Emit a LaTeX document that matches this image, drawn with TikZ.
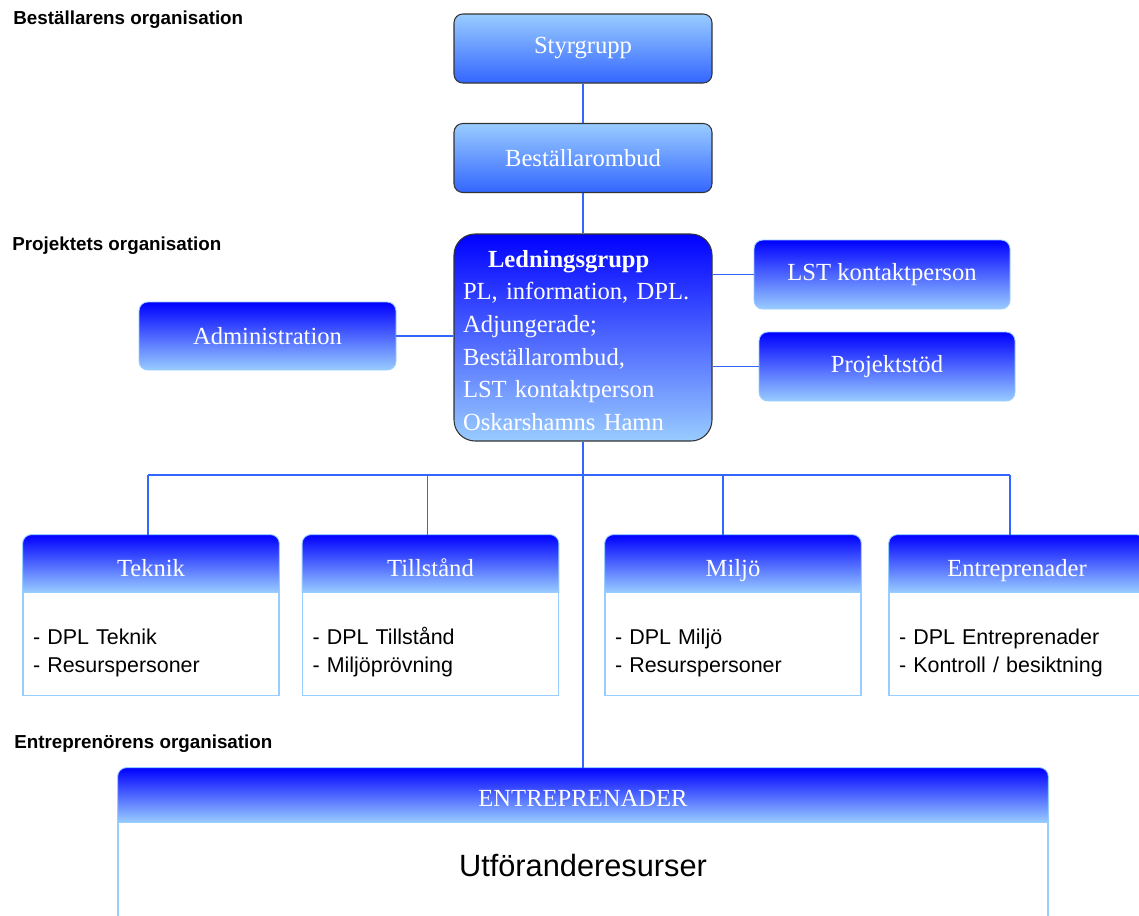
\documentclass[tikz,border=0pt]{standalone}
\usepackage{fontspec}
\setmainfont{Liberation Serif}
\setsansfont{Liberation Sans}
\usepackage{tikz}
\usetikzlibrary{positioning,backgrounds}
\definecolor{deepblue}{HTML}{0000FF}
\definecolor{paleblue}{HTML}{99CCFF}
\definecolor{midblue}{HTML}{3366FF}
\tikzstyle{topbox} = [draw=black!80, line width=0.6pt, rounded corners=5pt, top color=paleblue, bottom color=midblue, minimum width=5.16cm, minimum height=1.38cm, text=white, font=\fontsize{14}{17}\selectfont]
\tikzstyle{sidebox} = [draw=paleblue, line width=0.5pt, rounded corners=5pt, top color=deepblue, bottom color=paleblue, minimum width=5.12cm, minimum height=1.38cm, text=white, font=\fontsize{14}{17}\selectfont]
\tikzstyle{leadbox} = [draw=black!80, line width=0.6pt, rounded corners=12pt, top color=deepblue, bottom color=paleblue, minimum height=4.14cm, text width=4.8cm, text height=13pt, inner xsep=0.18cm, align=left, text=white, font=\fontsize{14}{18.6}\selectfont]
\tikzstyle{headbox} = [minimum width=5.12cm, minimum height=1.14cm, text height=0.55cm, text depth=0.05cm, text=white, font=\fontsize{14}{17}\selectfont]
\tikzstyle{headshade} = [draw=paleblue, line width=0.5pt, top color=deepblue, bottom color=paleblue]
\tikzstyle{bodybox} = [draw=paleblue, line width=0.6pt, fill=white, minimum height=2.06cm, text width=4.72cm, text height=0.85cm, text depth=0.85cm, inner xsep=0.2cm, align=left, font=\sffamily\fontsize{12.2}{15.9}\selectfont]
\tikzstyle{conn} = [draw=midblue, line width=1.1pt]
\tikzstyle{orglabel} = [anchor=west, inner sep=0pt, font=\sffamily\bfseries\fontsize{10.7}{13}\selectfont]

\begin{document}
\begin{tikzpicture}
			\useasboundingbox (0,0) rectangle (22.78,-18.3);
			\clip (0,0) rectangle (22.78,-18.3);
			% organisation labels
			\node[orglabel] (bestorg) at (0.26,-0.4) {Beställarens organisation};
			\node[orglabel] (projorg) at (0.24,-4.92) {Projektets organisation};
			\node[orglabel] (entrorg) at (0.28,-14.88) {Entreprenörens organisation};
			% top part
			\node[topbox] (styr) at (11.66,-0.97) {Styrgrupp};
			\node[topbox] (best) at (11.66,-3.16) {Beställarombud};
			\node[leadbox] (ledn) at (11.66,-6.75) {\hspace*{0.5cm}\textbf{Ledningsgrupp}\\PL, information, DPL.\\Adjungerade;\\Beställarombud,\\LST kontaktperson\\Oskarshamns Hamn};
			\node[sidebox] (lst) at (17.64,-5.49) {LST kontaktperson};
			\node[sidebox] (stod) at (17.74,-7.33) {Projektstöd};
			\node[sidebox, minimum width=5.14cm, minimum height=1.36cm] (adm) at (5.35,-6.72) {Administration};
			% delprojekt
			\node[headbox] (teknik) at (3.02,-11.27) {Teknik};
			\node[headbox] (tillst) at (8.61,-11.27) {Tillstånd};
			\node[headbox] (miljo) at (14.66,-11.27) {Miljö};
			\node[headbox] (entr) at (20.34,-11.27) {Entreprenader};
			\node[headbox, minimum width=18.6cm, minimum height=1.08cm, text height=0.5cm] (entrep) at (11.66,-15.9) {ENTREPRENADER};
			% header shapes, rounded on top only
			\begin{scope}[on background layer]
				\foreach \n in {teknik,tillst,miljo,entr,entrep}
					\path[headshade] (\n.south west) -- ([yshift=-5pt]\n.north west) arc[start angle=180, end angle=90, radius=5pt] -- ([xshift=-5pt]\n.north east) arc[start angle=90, end angle=0, radius=5pt] -- (\n.south east) -- cycle;
			\end{scope}
			\node[bodybox, below=0pt of teknik] (teknikb) {- DPL Teknik\\- Resurspersoner};
			\node[bodybox, below=0pt of tillst] (tillstb) {- DPL Tillstånd\\- Miljöprövning};
			\node[bodybox, below=0pt of miljo] (miljob) {- DPL Miljö\\- Resurspersoner};
			\node[bodybox, below=0pt of entr] (entrb) {- DPL Entreprenader\\- Kontroll / besiktning};
			\node[bodybox, below=0pt of entrep, text width=18.2cm, align=center, text height=0.5cm, text depth=1.6cm, inner ysep=0.58cm, font=\sffamily\fontsize{17.5}{21}\selectfont] (utf) {Utföranderesurser};
			% connectors
			\coordinate (bus) at (11.66,-9.5);
			\draw[conn] (styr) -- (best);
			\draw[conn] (best) -- (ledn);
			\draw[conn] (adm.east) -- (adm.east -| ledn.west);
			\draw[conn] (lst.west) -- (lst.west -| ledn.east);
			\draw[conn] (stod.west) -- (stod.west -| ledn.east);
			\draw[conn] (ledn.south) -- (entrep.north);
			\draw[conn] ([xshift=-0.06cm]teknik.north |- bus) -- ([xshift=-0.14cm]entr.north |- bus);
			\foreach \n/\dx in {teknik/-0.06,tillst/-0.06,miljo/-0.2,entr/-0.14}
				\draw[conn] ([xshift=\dx cm]\n.north) -- ([xshift=\dx cm]\n.north |- bus);
		\end{tikzpicture}
\end{document}
